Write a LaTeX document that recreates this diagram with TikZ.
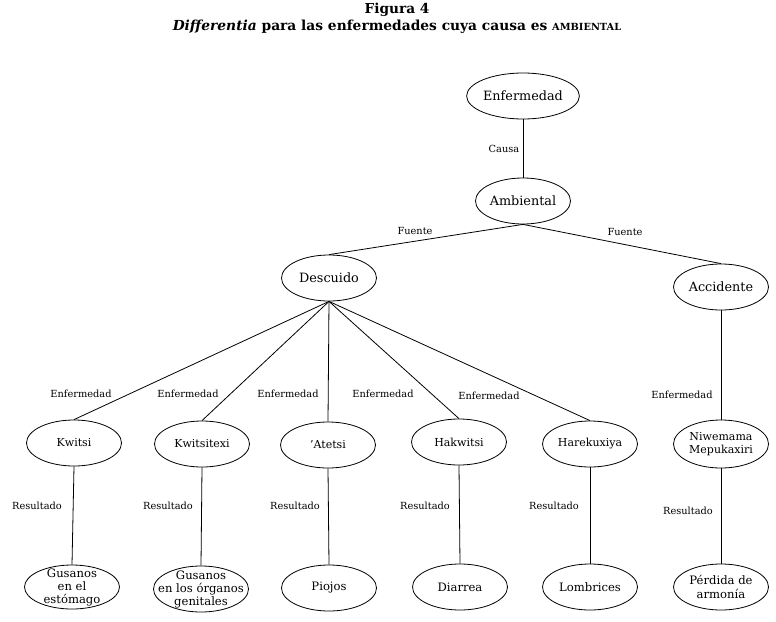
\documentclass[tikz,border=0pt]{standalone}
\usepackage{fontspec}
\setmainfont{DejaVu Serif}
\usetikzlibrary{shapes.geometric}
\begin{document}
\begin{tikzpicture}[x=1pt,y=-1pt,
  ell/.style={draw,ellipse,line width=0.8pt,inner sep=0pt,minimum width=95pt,minimum height=46pt,align=center},
  bigell/.style={ell,font=\fontsize{12.8}{14}\selectfont},
  midell/.style={ell,font=\fontsize{11}{13}\selectfont},
  botell/.style={ell,font=\fontsize{11.6}{13.5}\selectfont},
  bottxt/.style={align=center,font=\fontsize{11.6}{13}\selectfont,inner sep=0pt},
  elab/.style={font=\fontsize{9.8}{11}\selectfont,inner sep=0pt},
  conn/.style={line width=0.8pt}]
\useasboundingbox (0,0) rectangle (776,621);
\node[font=\bfseries\fontsize{13.7}{15}\selectfont] (t1) at (397,10) {Figura 4};
\node[font=\bfseries\fontsize{13.8}{15}\selectfont] (t2) at (397,27) {\textit{Differentia} para las enfermedades cuya causa es {\fontsize{9.8}{11}\selectfont AMBIENTAL}};

\node[bigell] (enf) at (523,96) {Enfermedad};
\node[bigell] (amb) at (523,201) {Ambiental};
\node[bigell] (des) at (329,278) {Descuido};
\node[bigell] (acc) at (721,287) {Accidente};

\node[midell] (kw) at (74,443) {Kwitsi};
\node[midell] (kwt) at (202,444) {Kwitsitexi};
\node[midell] (at) at (328,445) {'Atetsi};
\node[midell] (hak) at (459,442) {Hakwitsi};
\node[midell] (har) at (590,444) {Harekuxiya};
\node[midell,minimum height=48pt] (niw) at (721,444) {Niwemama\\Mepukaxiri};

\node[botell,minimum height=44pt,label={[bottxt]center:Gusanos\\en el\\estómago}] (gus1) at (72,587) {};
\node[botell,label={[bottxt]center:Gusanos\\en los órganos\\genitales}] (gus2) at (201,589) {};
\node[botell] (pio) at (329,588) {Piojos};
\node[botell] (dia) at (460,587) {Diarrea};
\node[botell] (lom) at (590,587) {Lombrices};
\node[botell] (per) at (721,587) {Pérdida de\\armonía};

\draw[conn] (enf.south) -- (amb.north);
\draw[conn] (amb.south) -- (des.north);
\draw[conn] (amb.south) -- (acc.north);
\foreach \n in {kw,kwt,at,hak,har}{\draw[conn] (des.south) -- (\n.north);}
\draw[conn] (acc.south) -- (niw.north);
\draw[conn] (kw.south) -- (gus1.north);
\draw[conn] (kwt.south) -- (gus2.north);
\draw[conn] (at.south) -- (pio.north);
\draw[conn] (hak.south) -- (dia.north);
\draw[conn] (har.south) -- (lom.north);
\draw[conn] (niw.south) -- (per.north);

\node[elab] (lc) at (504,149) {Causa};
\node[elab] (lf1) at (415,231) {Fuente};
\node[elab] (lf2) at (625,232) {Fuente};
\node[elab] (le1) at (81,394) {Enfermedad};
\node[elab] (le2) at (188,394) {Enfermedad};
\node[elab] (le3) at (288,394) {Enfermedad};
\node[elab] (le4) at (383,394) {Enfermedad};
\node[elab] (le5) at (489,396) {Enfermedad};
\node[elab] (le6) at (682,395) {Enfermedad};
\node[elab] (lr1) at (37,506) {Resultado};
\node[elab] (lr2) at (168,506) {Resultado};
\node[elab] (lr3) at (295,506) {Resultado};
\node[elab] (lr4) at (425,506) {Resultado};
\node[elab] (lr5) at (554,506) {Resultado};
\node[elab] (lr6) at (688,511) {Resultado};
\end{tikzpicture}
\end{document}
